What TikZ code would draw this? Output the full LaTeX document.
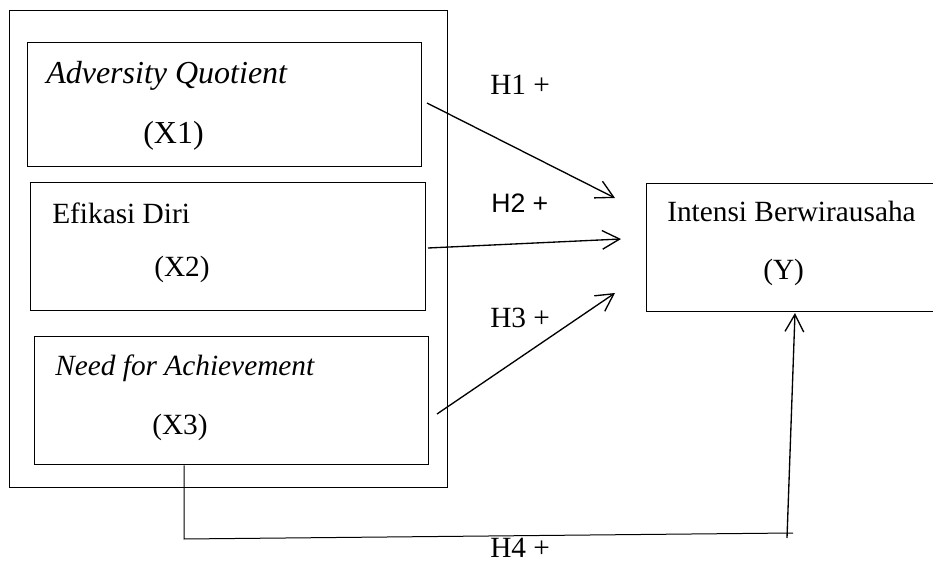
\documentclass[tikz,border=0pt]{standalone}
\usepackage{fontspec}
\setmainfont{Liberation Serif}
\newfontfamily\arialfont{Liberation Sans}
\usetikzlibrary{arrows.meta}
\tikzset{
  box/.style={draw, line width=0.95pt, inner sep=0pt, anchor=north west},
  txt/.style={inner sep=0pt, anchor=base west, font=\fontsize{22}{26}\selectfont},
  bigtxt/.style={txt, font=\fontsize{24}{28}\selectfont},
  conn/.style={line width=1pt, -{Straight Barb[length=13pt,width=14pt,line width=1pt]}},
  thinline/.style={line width=0.75pt}
}
\begin{document}
\begin{tikzpicture}[x=0.75pt,y=-0.75pt]
\useasboundingbox (0,0) rectangle (933,563);
\clip (0,0) rectangle (933,563);
% outer box
\node[box, line width=1.1pt, minimum width=438*0.75pt, minimum height=477*0.75pt] (outer) at (9,10) {};
% inner boxes
\node[box, minimum width=394*0.75pt, minimum height=124*0.75pt] (x1) at (27,42) {};
\node[box, minimum width=395*0.75pt, minimum height=128*0.75pt] (x2) at (30,182) {};
\node[box, minimum width=394*0.75pt, minimum height=128*0.75pt] (x3) at (34,336) {};
\node[box, minimum width=300*0.75pt, minimum height=128*0.75pt] (y) at (646,183) {};
% texts
\node[bigtxt] (t1) at (46,84) {\itshape Adversity Quotient};
\node[bigtxt] (t1b) at (143,144) {(X1)};
\node[txt] (t2) at (52,224) {Efikasi Diri};
\node[txt] (t2b) at (154,277) {(X2)};
\node[txt] (t3) at (55,375) {\itshape Need for Achievement};
\node[txt] (t3b) at (152,434) {(X3)};
\node[txt] (ty) at (667,222) {Intensi Berwirausaha};
\node[txt] (tyb) at (763,280) {(Y)};
\node[txt] (h1) at (490,95) {H1 +};
\node[txt, font=\arialfont\fontsize{20}{24}\selectfont] (h2) at (491,213) {H2 +};
\node[txt] (h3) at (490,328) {H3 +};
\node[txt] (h4) at (490,557) {H4 +};
% connector end points
\coordinate (a1) at (427,103);
\coordinate (b1) at (615,198);
\coordinate (a2) at (428,248);
\coordinate (b2) at (621,239);
\coordinate (a3) at (437,414);
\coordinate (b3) at (615,293);
\coordinate (c1) at (184,539);
\coordinate (c2) at (793,533);
\coordinate (c3) at (787,538);
\coordinate (c4) at (795,313);
\draw[conn] (a1) -- (b1);
\draw[conn] (a2) -- (b2);
\draw[conn] (a3) -- (b3);
\draw[thinline] (x3.south west -| c1) -- (c1) -- (c2);
\draw[conn] (c3) -- (c4);
\end{tikzpicture}
\end{document}
